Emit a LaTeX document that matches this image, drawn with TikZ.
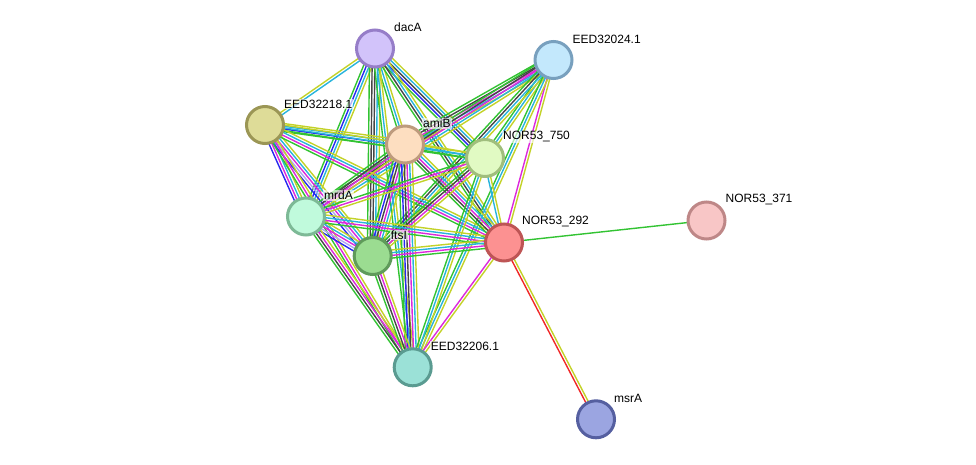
\documentclass[tikz,border=0pt]{standalone}
\usepackage{fontspec}
\setmainfont{Liberation Sans}
\usetikzlibrary{calc}
\pgfdeclarelayer{background}
\pgfsetlayers{background,main}
\definecolor{colN}{RGB}{50,195,50}
\definecolor{colF}{RGB}{240,40,40}
\definecolor{colO}{RGB}{40,40,240}
\definecolor{colX}{RGB}{70,70,70}
\definecolor{colE}{RGB}{220,40,220}
\definecolor{colD}{RGB}{40,180,220}
\definecolor{colT}{RGB}{195,210,40}
\definecolor{colH}{RGB}{170,170,240}
\tikzset{
 eN/.style={draw=colN},eF/.style={draw=colF},eO/.style={draw=colO},eX/.style={draw=colX},
 eE/.style={draw=colE},eD/.style={draw=colD},eT/.style={draw=colT},eH/.style={draw=colH},
 prot/.style={circle,minimum size=37pt,inner sep=0pt,line width=3pt},
 plabel/.style={anchor=west,font=\fontsize{12}{14}\selectfont,fill=white,fill opacity=0.65,text opacity=1,inner sep=1pt}
}
\newcommand\stredge[3]{%
 \xdef\ncount{0}%
 \foreach \c in {#3}{\xdef\ncount{\the\numexpr\ncount+1\relax}}%
 \foreach \c [count=\i] in {#3}{%
   \pgfmathsetmacro\off{(\i-1-(\ncount-1)/2)*2.7}%
   \draw[\c,line width=1.4pt] ($(#1)!\off pt!90:(#2)$) -- ($(#2)!\off pt!-90:(#1)$);
 }}
\begin{document}
\begin{tikzpicture}[x=1pt,y=-1pt]
\useasboundingbox (0,0) rectangle (976,465);
% nodes
\node[prot,draw={rgb,255:red,150;green,125;blue,200},fill={rgb,255:red,210;green,195;blue,250}] (D) at (375,48.5) {};
\node[prot,draw={rgb,255:red,120;green,160;blue,190},fill={rgb,255:red,195;green,232;blue,252}] (E24) at (553.5,60) {};
\node[prot,draw={rgb,255:red,155;green,150;blue,85},fill={rgb,255:red,222;green,220;blue,152}] (E18) at (265,125) {};
\node[prot,draw={rgb,255:red,190;green,155;blue,125},fill={rgb,255:red,253;green,222;blue,192}] (A) at (405,144.5) {};
\node[prot,draw={rgb,255:red,160;green,190;blue,125},fill={rgb,255:red,225;green,250;blue,195}] (N750) at (485,158) {};
\node[prot,draw={rgb,255:red,125;green,185;blue,150},fill={rgb,255:red,192;green,250;blue,220}] (M) at (306,216.5) {};
\node[prot,draw={rgb,255:red,95;green,155;blue,90},fill={rgb,255:red,155;green,220;blue,145}] (F) at (372.7,256) {};
\node[prot,draw={rgb,255:red,190;green,85;blue,85},fill={rgb,255:red,252;green,145;blue,145}] (N292) at (504,242.5) {};
\node[prot,draw={rgb,255:red,190;green,135;blue,135},fill={rgb,255:red,248;green,198;blue,198}] (N371) at (706.5,220.5) {};
\node[prot,draw={rgb,255:red,90;green,155;blue,145},fill={rgb,255:red,155;green,225;blue,215}] (E06) at (412.7,367.3) {};
\node[prot,draw={rgb,255:red,85;green,95;blue,160},fill={rgb,255:red,155;green,165;blue,225}] (S) at (596,419.3) {};
% labels
\node[plabel] (lD) at ($(D)+(18,-21)$) {dacA};
\node[plabel] (lE24) at ($(E24)+(18,-21)$) {EED32024.1};
\node[plabel] (lE18) at ($(E18)+(18,-21)$) {EED32218.1};
\node[plabel] (lA) at ($(A)+(17,-21)$) {amiB};
\node[plabel] (lN750) at ($(N750)+(17,-21)$) {NOR53\_750};
\node[plabel] (lM) at ($(M)+(17,-21)$) {mrdA};
\node[plabel] (lF) at ($(F)+(17,-21)$) {ftsI};
\node[plabel] (lN292) at ($(N292)+(17,-21)$) {NOR53\_292};
\node[plabel] (lN371) at ($(N371)+(18,-21)$) {NOR53\_371};
\node[plabel] (lE06) at ($(E06)+(17,-21)$) {EED32206.1};
\node[plabel] (lS) at ($(S)+(17,-21)$) {msrA};
% edges
\begin{pgfonlayer}{background}
\stredge{D}{E18}{eT,eD}
\stredge{D}{A}{eN,eD,eT}
\stredge{D}{N750}{eN,eO,eX,eD,eT}
\stredge{D}{N292}{eN,eX,eD,eT}
\stredge{D}{M}{eN,eO,eD,eT}
\stredge{D}{F}{eN,eX,eX,eD,eT}
\stredge{D}{E06}{eN,eD,eT}
\stredge{E24}{A}{eN,eX,eE,eD,eT}
\stredge{E24}{N750}{eN,eD,eT}
\stredge{E24}{M}{eN,eX,eE,eD,eT}
\stredge{E24}{F}{eN,eX,eD,eT}
\stredge{E24}{N292}{eE,eT}
\stredge{E24}{E06}{eN,eD,eT}
\stredge{E18}{A}{eN,eO,eD,eT}
\stredge{E18}{N750}{eN,eD,eT}
\stredge{E18}{M}{eO,eE,eD,eT}
\stredge{E18}{F}{eO,eH,eE,eD,eT}
\stredge{E18}{N292}{eN,eE,eD,eT}
\stredge{E18}{E06}{eN,eE,eT}
\stredge{A}{N750}{eN,eD,eT}
\stredge{A}{M}{eN,eX,eE,eT}
\stredge{A}{F}{eN,eO,eX,eE,eD,eT}
\stredge{A}{N292}{eN,eX,eE,eD,eT}
\stredge{A}{E06}{eN,eO,eX,eE,eD,eT}
\stredge{N750}{M}{eN,eE,eT}
\stredge{N750}{F}{eN,eX,eE,eT}
\stredge{N750}{N292}{eD,eT}
\stredge{N750}{E06}{eN,eD,eT}
\stredge{M}{F}{eO,eH,eE,eD,eT}
\stredge{M}{N292}{eN,eE,eD,eT}
\stredge{M}{E06}{eN,eX,eE,eT}
\stredge{F}{N292}{eN,eE,eD,eT}
\stredge{F}{E06}{eN,eX,eE,eT}
\stredge{N292}{E06}{eE,eT}
\stredge{N292}{N371}{eN}
\stredge{N292}{S}{eF,eT}
\end{pgfonlayer}
\end{tikzpicture}
\end{document}
